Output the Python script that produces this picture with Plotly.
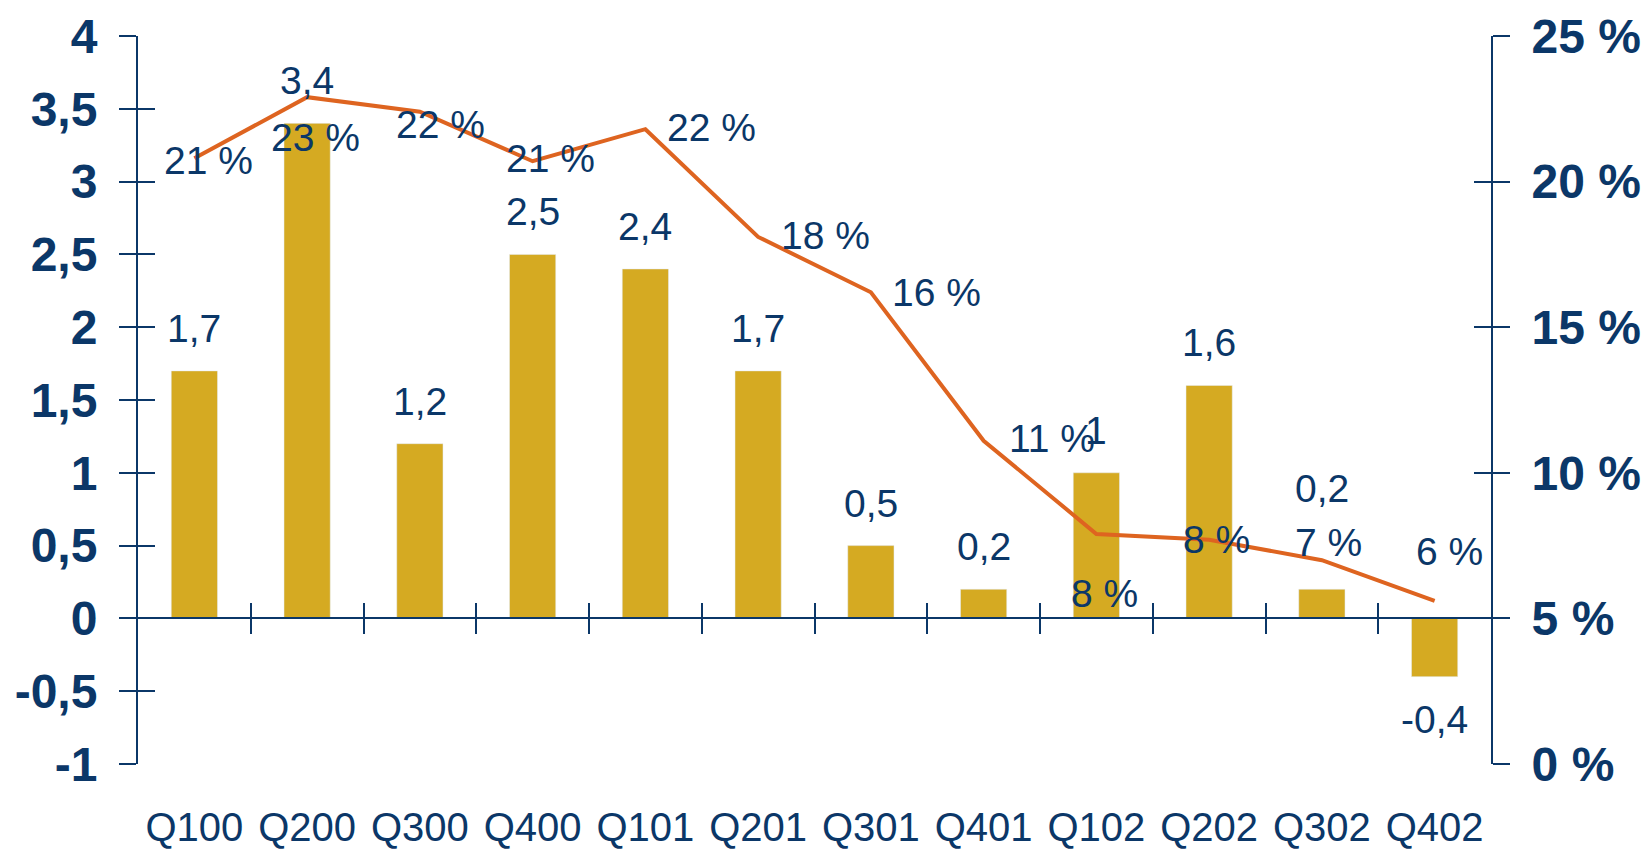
import plotly.graph_objects as go

# Quarterly series
quarters = ["Q100", "Q200", "Q300", "Q400", "Q101", "Q201",
            "Q301", "Q401", "Q102", "Q202", "Q302", "Q402"]
growth = [1.7, 3.4, 1.2, 2.5, 2.4, 1.7, 0.5, 0.2, 1.0, 1.6, 0.2, -0.4]
share_pct = [20.8, 22.9, 22.4, 20.7, 21.8, 18.1, 16.2, 11.1, 7.9, 7.7, 7.0, 5.6]

left_ticks = [-1, -0.5, 0, 0.5, 1, 1.5, 2, 2.5, 3, 3.5, 4]
right_ticks = [0, 5, 10, 15, 20, 25]

# Label placement (pixel offsets)
pct_label_dx = [14, 8, 21, 18, 66, 67, 66, 68, 8, 7, 7, 15]
pct_label_dy = [-2, -40, -13, 3, 2, 1, 0, 2, -60, 0, 18, 49]
bar_label_extra = [0, 0, 0, 0, 0, 0, 0, 0, 0, 0, 58, 0]

NAVY = "#0B3768"
GOLD = "#D5AA22"
ORANGE = "#DE6420"
FONT = "Liberation Sans, Arial, sans-serif"


def comma(v):
    s = f"{v:g}"
    return s.replace(".", ",")


fig = go.Figure()

fig.add_trace(go.Bar(
    x=quarters, y=growth, marker_color=GOLD, width=0.41,
    xaxis="x", yaxis="y", hoverinfo="skip", showlegend=False,
))
fig.add_trace(go.Scatter(
    x=quarters, y=share_pct, mode="lines",
    line=dict(color=ORANGE, width=4),
    xaxis="x", yaxis="y2", hoverinfo="skip", showlegend=False,
))
# helper traces so the overlay axes (cross ticks) are rendered
for xa, ya in [("x2", "y"), ("x3", "y"), ("x", "y3"), ("x", "y4")]:
    fig.add_trace(go.Scatter(
        x=[None], y=[None], mode="markers", xaxis=xa, yaxis=ya,
        hoverinfo="skip", showlegend=False,
    ))

annotations = []
for q, v, extra in zip(quarters, growth, bar_label_extra):
    annotations.append(dict(
        x=q, y=v, xref="x", yref="y", text=comma(v), showarrow=False,
        yanchor="bottom" if v >= 0 else "top",
        yshift=(19 + extra) if v >= 0 else -19,
        font=dict(family=FONT, size=39, color=NAVY),
    ))
for q, v, dx, dy in zip(quarters, share_pct, pct_label_dx, pct_label_dy):
    annotations.append(dict(
        x=q, y=v, xref="x", yref="y2", text=f"{round(v)} %", showarrow=False,
        xanchor="center", yanchor="middle", xshift=dx, yshift=dy,
        font=dict(family=FONT, size=39, color=NAVY),
    ))

n = len(quarters)
boundaries = [i - 0.5 for i in range(n + 1)]
zero_pos = (0 - left_ticks[0]) / (left_ticks[-1] - left_ticks[0])

common_y = dict(range=[-1, 4], tickvals=left_ticks, showgrid=False,
                zeroline=False, automargin=False)

fig.update_layout(
    width=1652, height=852,
    margin=dict(l=138, r=161, t=36, b=88),
    paper_bgcolor="white", plot_bgcolor="white",
    showlegend=False, bargap=0.59,
    font=dict(family=FONT, color=NAVY),
    annotations=annotations,
    xaxis=dict(
        type="category", range=[-0.5, n - 0.5], showline=False, showgrid=False,
        zeroline=False, ticks="", ticklabelstandoff=36, tickangle=0,
        automargin=False,
        tickfont=dict(family=FONT, size=40, color=NAVY),
    ),
    xaxis2=dict(
        overlaying="x", anchor="free", position=zero_pos, side="bottom",
        range=[-0.5, n - 0.5], tickmode="array", tickvals=boundaries[1:-1],
        showticklabels=False, ticks="outside", ticklen=15, tickwidth=2,
        tickcolor=NAVY, showline=True, linecolor=NAVY, linewidth=2,
        showgrid=False, zeroline=False, automargin=False,
    ),
    xaxis3=dict(
        overlaying="x", anchor="free", position=zero_pos, side="bottom",
        range=[-0.5, n - 0.5], tickmode="array", tickvals=boundaries[1:-1],
        showticklabels=False, ticks="inside", ticklen=15, tickwidth=2,
        tickcolor=NAVY, showline=False, showgrid=False, zeroline=False,
        automargin=False,
    ),
    yaxis=dict(
        **common_y,
        ticktext=[comma(t) for t in left_ticks],
        ticks="outside", ticklen=17, tickwidth=2, tickcolor=NAVY,
        showline=True, linecolor=NAVY, linewidth=2,
        ticklabelstandoff=12,
        tickfont=dict(family=FONT, size=48, color=NAVY, weight="bold"),
    ),
    yaxis3=dict(
        **common_y, overlaying="y", side="left", anchor="x",
        showticklabels=False, ticks="inside", ticklen=17, tickwidth=2,
        tickcolor=NAVY, showline=False,
    ),
    yaxis2=dict(
        range=[0, 25], tickvals=right_ticks,
        ticktext=[f"{t} %" for t in right_ticks],
        overlaying="y", side="right", anchor="x",
        showgrid=False, zeroline=False, automargin=False,
        ticks="outside", ticklen=17, tickwidth=2, tickcolor=NAVY,
        showline=True, linecolor=NAVY, linewidth=2,
        ticklabelstandoff=12,
        tickfont=dict(family=FONT, size=48, color=NAVY, weight="bold"),
    ),
    yaxis4=dict(
        range=[0, 25], tickvals=right_ticks, overlaying="y", side="right",
        anchor="x", showgrid=False, zeroline=False, showticklabels=False,
        automargin=False,
        ticks="inside", ticklen=17, tickwidth=2, tickcolor=NAVY,
    ),
)

fig.write_html("out.html")
